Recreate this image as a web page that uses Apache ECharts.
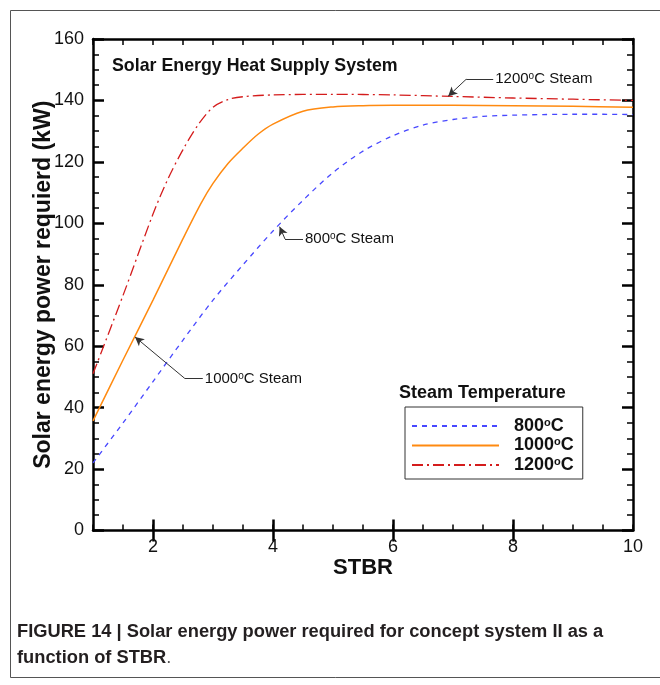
<!DOCTYPE html>
<html>
<head>
<meta charset="utf-8">
<script src="https://cdn.jsdelivr.net/npm/echarts@6/dist/echarts.min.js"></script>
<style>
  html, body { margin: 0; padding: 0; background: #fff; }
  #chart { width: 660px; height: 685px; }
</style>
</head>
<body>
<div id="chart"></div>
<script>
// STBR values and required solar power (kW) for each steam temperature
const stbr800   = [1, 1.5, 2, 2.5, 3, 3.5, 4, 4.5, 5, 5.5, 6, 6.5, 7, 7.5, 8, 8.5, 9, 9.5, 10];
const power800  = [22, 35, 48.5, 62, 75, 86.5, 97.5, 107.5, 116.5, 123.5, 128.5, 132, 133.8, 134.8, 135.2, 135.4, 135.5, 135.5, 135.4];

const stbr1000  = [1, 1.5, 2, 2.5, 2.8, 3, 3.25, 3.5, 3.75, 4, 4.5, 5, 5.5, 6, 7, 8, 9, 10];
const power1000 = [35.7, 55.5, 75, 95, 106.5, 113, 119.5, 124.5, 129, 132.3, 136.5, 137.9, 138.3, 138.4, 138.4, 138.3, 138.1, 137.8];

const stbr1200  = [1, 1.5, 2, 2.25, 2.5, 2.75, 3, 3.25, 3.5, 4, 5, 6, 7, 8, 9, 10];
const power1200 = [51, 76.5, 103, 114.5, 124, 132, 137.8, 140.3, 141.2, 141.8, 142, 141.8, 141.3, 140.8, 140.4, 140];

const seriesNames = ['800', '1000', '1200'];
const xTickLabels = [2, 4, 6, 8, 10];

// Leader lines: [text anchor, elbow, arrow tip] in data coordinates
const note800  = [[4.5, 94.9], [4.2, 94.9], [4.11, 98.9]];
const note1000 = [[2.83, 49.5], [2.53, 49.5], [1.7, 63.0]];
const note1200 = [[7.67, 146.9], [7.22, 146.9], [6.92, 141.4]];

const FONT = '"Liberation Sans", Arial, Helvetica, sans-serif';
const CAPTION_FONT = '"Liberation Sans Narrow", "Arial Narrow", ' + FONT;
const pairs = (xs, ys) => xs.map((x, i) => [x, ys[i]]);

function leader(points, text) {
  return {
    markLine: {
      silent: true,
      animation: false,
      symbolSize: [7, 9],
      label: { show: false },
      lineStyle: { color: '#333', width: 1, type: 'solid' },
      emphasis: { disabled: true },
      data: [
        [{ coord: points[0], symbol: 'none' }, { coord: points[1], symbol: 'none' }],
        [{ coord: points[1], symbol: 'none' }, { coord: points[2], symbol: 'arrow' }]
      ]
    },
    markPoint: {
      silent: true,
      animation: false,
      symbol: 'circle',
      symbolSize: 0,
      itemStyle: { color: 'transparent' },
      label: {
        show: true,
        position: 'right',
        distance: 2,
        formatter: text + '{s|o}C Steam',
        fontFamily: FONT,
        fontSize: 15,
        color: '#111',
        rich: {
          s: { fontSize: 10, fontFamily: FONT, color: '#111', verticalAlign: 'top', padding: [0, 0, 5, 0] }
        }
      },
      data: [{ coord: points[0] }]
    }
  };
}

const baseX = { type: 'value', min: 1, max: 10, gridIndex: 0, splitLine: { show: false } };
const baseY = { type: 'value', min: 0, max: 160, interval: 20, splitLine: { show: false } };
const axisLine = { show: true, onZero: false, lineStyle: { color: '#000', width: 2.5 } };

const chart = echarts.init(document.getElementById('chart'), null, { renderer: 'canvas' });

chart.setOption({
  animation: false,
  backgroundColor: '#fff',
  grid: { left: 93, right: 27, top: 39, bottom: 154.5, containLabel: false },
  xAxis: [
    Object.assign({}, baseX, {
      position: 'bottom', interval: 0.5,
      axisLine: axisLine,
      axisTick: { show: true, inside: true, length: 6, lineStyle: { color: '#000', width: 1.5 } },
      axisLabel: { show: true, customValues: xTickLabels, margin: 8, fontFamily: FONT, fontSize: 18, color: '#111' },
      name: 'STBR', nameLocation: 'middle', nameGap: 26, nameMoveOverlap: false,
      nameTextStyle: { fontFamily: FONT, fontWeight: 'bold', fontSize: 22, color: '#111' }
    }),
    Object.assign({}, baseX, {
      position: 'bottom', interval: 0.5,
      axisLine: { show: false },
      axisTick: { show: true, inside: true, length: 11, customValues: [2, 4, 6, 8], lineStyle: { color: '#000', width: 2.5 } },
      axisLabel: { show: false }
    }),
    Object.assign({}, baseX, {
      position: 'top', interval: 0.5,
      axisLine: axisLine,
      axisTick: { show: true, inside: true, length: 6, lineStyle: { color: '#000', width: 1.5 } },
      axisLabel: { show: false }
    }),
    Object.assign({}, baseX, {
      position: 'top', interval: 0.5,
      axisLine: { show: false },
      axisTick: { show: true, inside: true, length: 11, customValues: [2, 4, 6, 8], lineStyle: { color: '#000', width: 2.5 } },
      axisLabel: { show: false }
    })
  ],
  yAxis: [
    Object.assign({}, baseY, {
      position: 'left',
      axisLine: axisLine,
      axisTick: { show: true, inside: true, length: 11, lineStyle: { color: '#000', width: 2.5 } },
      minorTick: { show: true, splitNumber: 4, length: 6, lineStyle: { color: '#000', width: 1.5 } },
      axisLabel: { show: true, margin: 9, fontFamily: FONT, fontSize: 18, color: '#111' },
      name: 'Solar energy power requierd (kW)', nameLocation: 'middle', nameGap: 38, nameMoveOverlap: false,
      nameTextStyle: { fontFamily: FONT, fontWeight: 'bold', fontSize: 23, color: '#111' }
    }),
    Object.assign({}, baseY, {
      position: 'right',
      axisLine: axisLine,
      axisTick: { show: true, inside: true, length: 11, lineStyle: { color: '#000', width: 2.5 } },
      minorTick: { show: true, splitNumber: 4, length: 6, lineStyle: { color: '#000', width: 1.5 } },
      axisLabel: { show: false }
    })
  ],
  legend: {
    orient: 'vertical',
    left: 405, top: 407,
    data: seriesNames,
    itemWidth: 87, itemHeight: 14, itemGap: 1.5,
    padding: [10, 9, 5, 6],
    borderColor: '#333', borderWidth: 1,
    backgroundColor: '#fff',
    selectedMode: false,
    itemStyle: { color: 'transparent', borderColor: 'transparent', borderWidth: 0, opacity: 0 },
    formatter: name => '{t|' + name + '}{s|o}{t|C}',
    textStyle: {
      fontFamily: FONT, fontWeight: 'bold', fontSize: 18, color: '#111',
      rich: {
        t: { fontFamily: FONT, fontWeight: 'bold', fontSize: 18, color: '#111' },
        s: { fontFamily: FONT, fontWeight: 'bold', fontSize: 11, color: '#111', verticalAlign: 'top', padding: [0, 0, 7, 0] }
      },
      padding: [0, 0, 0, 10]
    }
  },
  title: [
    {
      text: 'Solar Energy Heat Supply System',
      left: 112, top: 57,
      textStyle: { fontFamily: FONT, fontWeight: 'bold', fontSize: 17.8, color: '#111' },
      padding: 0
    },
    {
      text: 'Steam Temperature',
      left: 399, top: 384,
      textStyle: { fontFamily: FONT, fontWeight: 'bold', fontSize: 18, color: '#111' },
      padding: 0
    }
  ],
  graphic: [
    {
      type: 'rect', z: -10, silent: true,
      shape: { x: 10.5, y: 10.5, width: 700, height: 667 },
      style: { fill: 'none', stroke: '#555', lineWidth: 1 }
    },
    {
      type: 'text', left: 17, top: 619, silent: true,
      style: {
        text: 'FIGURE 14 | Solar energy power required for concept system II as a\n{b|function of STBR}{r|.}',
        font: 'bold 18.3px ' + CAPTION_FONT,
        fill: '#231f20',
        lineHeight: 26,
        rich: {
          b: { font: 'bold 18.3px ' + CAPTION_FONT, fill: '#231f20', lineHeight: 26 },
          r: { font: '18.3px ' + CAPTION_FONT, fill: '#555', lineHeight: 26 }
        }
      }
    }
  ],
  series: [
    Object.assign({
      name: seriesNames[0], type: 'line', xAxisIndex: 0, yAxisIndex: 0,
      data: pairs(stbr800, power800),
      symbol: 'none', smooth: 0.3,
      color: '#4848ff',
      lineStyle: { color: '#4848ff', width: 1.3, type: [5, 5] }
    }, leader(note800, '800')),
    Object.assign({
      name: seriesNames[1], type: 'line', xAxisIndex: 0, yAxisIndex: 0,
      data: pairs(stbr1000, power1000),
      symbol: 'none', smooth: 0.3,
      color: '#ff8a10',
      lineStyle: { color: '#ff8a10', width: 1.5, type: 'solid' }
    }, leader(note1000, '1000')),
    Object.assign({
      name: seriesNames[2], type: 'line', xAxisIndex: 0, yAxisIndex: 0,
      data: pairs(stbr1200, power1200),
      symbol: 'none', smooth: 0.3,
      color: '#d41c1c',
      lineStyle: { color: '#d41c1c', width: 1.3, type: [11, 4, 2, 4] }
    }, leader(note1200, '1200'))
  ]
});
</script>
</body>
</html>
